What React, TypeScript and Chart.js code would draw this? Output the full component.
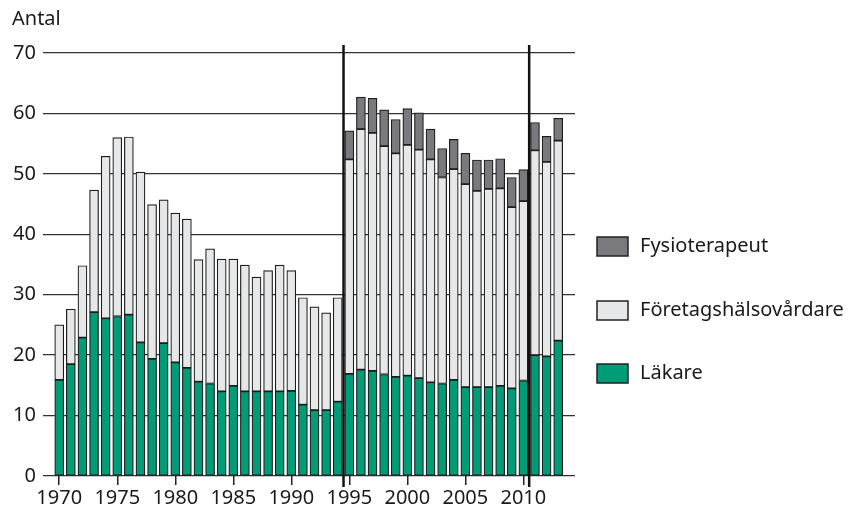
import React, { useEffect, useRef } from "react";
import { Chart, registerables } from "chart.js";

Chart.register(...registerables);

const years: number[] = [];
for (let y = 1970; y <= 2013; y++) years.push(y);

const lakare = [
  15.9, 18.5, 22.9, 27.1, 26.1, 26.4, 26.7, 22.1, 19.4, 22.0,
  18.8, 17.9, 15.6, 15.3, 14.0, 14.9, 14.0, 14.0, 14.0, 14.0,
  14.1, 11.8, 10.9, 10.9, 12.3, 16.9, 17.6, 17.4, 16.8, 16.4,
  16.6, 16.2, 15.5, 15.3, 15.9, 14.7, 14.7, 14.7, 14.9, 14.5,
  15.8, 20.0, 19.8, 22.4,
];

const foretag = [
  9.1, 9.1, 11.9, 20.2, 26.8, 29.6, 29.4, 28.2, 25.5, 23.7,
  24.7, 24.6, 20.2, 22.3, 21.9, 21.0, 20.9, 18.9, 20.0, 20.9,
  19.9, 17.7, 17.1, 16.1, 17.2, 35.5, 39.8, 39.4, 37.8, 37.0,
  38.2, 37.8, 36.9, 34.1, 34.9, 33.6, 32.5, 32.8, 32.7, 30.0,
  29.7, 33.9, 32.2, 33.1,
];

const fysio = [
  null, null, null, null, null, null, null, null, null, null,
  null, null, null, null, null, null, null, null, null, null,
  null, null, null, null, null, 4.7, 5.3, 5.7, 6.0, 5.6,
  6.0, 6.1, 5.0, 4.8, 4.9, 5.1, 5.1, 4.8, 4.9, 4.9,
  5.2, 4.6, 4.2, 3.7,
];

const xTickYears = [1970, 1975, 1980, 1985, 1990, 1995, 2000, 2005, 2010];
const separators = [1994.5, 2010.5];
const yLabel = "Antal";

const FONT = "'Noto Sans', sans-serif";

const extrasPlugin = {
  id: "extras",
  afterDatasetsDraw(chart: any) {
    const ctx = chart.ctx;
    const xs = chart.scales.x;
    ctx.save();
    ctx.strokeStyle = "#111";
    ctx.lineWidth = 2.5;
    separators.forEach((v) => {
      const px = xs.getPixelForValue(v);
      ctx.beginPath();
      ctx.moveTo(px, 45);
      ctx.lineTo(px, 487);
      ctx.stroke();
    });
    ctx.restore();
  },
  afterDraw(chart: any) {
    const ctx = chart.ctx;
    ctx.save();
    ctx.fillStyle = "#1a1a1a";
    ctx.font = `20px ${FONT}`;
    ctx.textBaseline = "middle";
    ctx.textAlign = "left";
    ctx.fillText(yLabel, 12, 19);

    const order = [2, 1, 0];
    const tops = [237, 301, 364];
    order.forEach((di, i) => {
      const ds = chart.data.datasets[di];
      const top = tops[i];
      ctx.fillStyle = ds.backgroundColor;
      ctx.fillRect(597, top, 31, 19);
      ctx.strokeStyle = "#222";
      ctx.lineWidth = 1.5;
      ctx.strokeRect(597, top, 31, 19);
      ctx.fillStyle = "#1a1a1a";
      ctx.fillText(ds.label, 640, top + 9.5);
    });
    ctx.restore();
  },
};

export default function App() {
  const ref = useRef<HTMLCanvasElement | null>(null);

  useEffect(() => {
    document.body.style.margin = "0";
    if (!ref.current) return;
    const common = {
      borderColor: "#1c1c1c",
      borderWidth: 1.2,
      borderSkipped: false,
      barThickness: 9,
    };
    const chart = new Chart(ref.current, {
      type: "bar",
      data: {
        labels: years,
        datasets: [
          { label: "Läkare", data: lakare, backgroundColor: "#009B77", ...common },
          { label: "Företagshälsovårdare", data: foretag, backgroundColor: "#E6E7E8", ...common },
          { label: "Fysioterapeut", data: fysio as any, backgroundColor: "#7A7A7E", ...common },
        ],
      },
      options: {
        animation: false,
        responsive: false,
        maintainAspectRatio: false,
        layout: { padding: { left: 0, right: 273, top: 53, bottom: 0 } },
        plugins: { legend: { display: false }, tooltip: { enabled: false } },
        scales: {
          x: {
            type: "linear",
            stacked: true,
            offset: false,
            min: 1968.6,
            max: 2014.45,
            afterBuildTicks: (scale: any) => {
              scale.ticks = xTickYears.map((v) => ({ value: v }));
            },
            afterFit: (scale: any) => {
              scale.height = 40;
            },
            ticks: {
              autoSkip: false,
              maxRotation: 0,
              padding: 1,
              color: "#1a1a1a",
              font: { family: FONT, size: 20 },
              callback: (v: any) => String(v),
            },
            grid: {
              offset: false,
              drawOnChartArea: false,
              drawTicks: true,
              tickLength: 9,
              color: "#222",
              lineWidth: 1.5,
            },
            border: { display: false },
          },
          y: {
            stacked: true,
            min: 0,
            max: 70,
            afterFit: (scale: any) => {
              scale.width = 43;
            },
            ticks: {
              stepSize: 10,
              padding: 7,
              color: "#1a1a1a",
              font: { family: FONT, size: 20 },
            },
            grid: { color: "#333", lineWidth: 1.3, drawTicks: false },
            border: { display: false },
          },
        },
      } as any,
      plugins: [extrasPlugin],
    });
    return () => chart.destroy();
  }, []);

  return (
    <div style={{ width: 848, height: 516, background: "#fff" }}>
      <canvas ref={ref} width={848} height={516} style={{ display: "block" }} />
    </div>
  );
}
